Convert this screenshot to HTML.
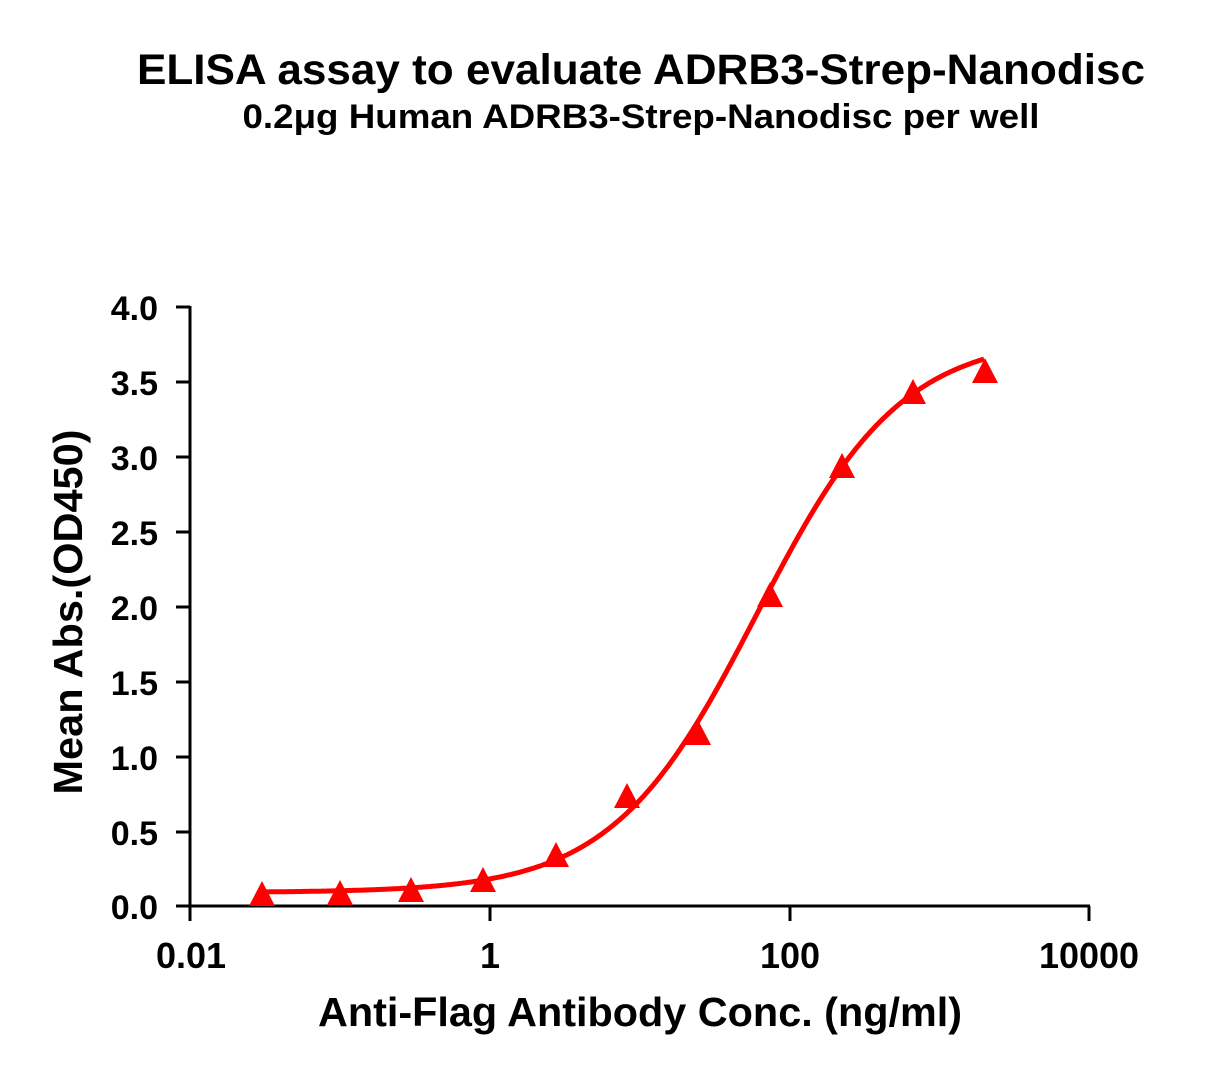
<!DOCTYPE html>
<html><head><meta charset="utf-8"><style>
html,body{margin:0;padding:0;background:#fff;}
svg text{font-family:"Liberation Sans",Arial,sans-serif;font-weight:bold;fill:#000;}
</style></head><body>
<svg width="1217" height="1075" xmlns="http://www.w3.org/2000/svg">
<text x="641" y="84" font-size="43" text-anchor="middle" textLength="1008" lengthAdjust="spacingAndGlyphs">ELISA assay to evaluate ADRB3-Strep-Nanodisc</text>
<text x="641" y="128" font-size="34" text-anchor="middle" textLength="797" lengthAdjust="spacingAndGlyphs">0.2μg Human ADRB3-Strep-Nanodisc per well</text>
<g stroke="#000" stroke-width="3" fill="none">
<line x1="190" y1="306" x2="190" y2="908"/>
<line x1="188" y1="906" x2="1090" y2="906"/>
<line x1="176" y1="307" x2="190" y2="307"/>
<line x1="176" y1="382" x2="190" y2="382"/>
<line x1="176" y1="457" x2="190" y2="457"/>
<line x1="176" y1="532" x2="190" y2="532"/>
<line x1="176" y1="607" x2="190" y2="607"/>
<line x1="176" y1="682" x2="190" y2="682"/>
<line x1="176" y1="757" x2="190" y2="757"/>
<line x1="176" y1="832" x2="190" y2="832"/>
<line x1="176" y1="906" x2="190" y2="906"/>
<line x1="190" y1="906" x2="190" y2="921"/>
<line x1="490" y1="906" x2="490" y2="921"/>
<line x1="790" y1="906" x2="790" y2="921"/>
<line x1="1089" y1="906" x2="1089" y2="921"/>
</g>
<g font-size="34" text-anchor="end">
<text x="158" y="320">4.0</text><text x="158" y="395">3.5</text><text x="158" y="470">3.0</text>
<text x="158" y="545">2.5</text><text x="158" y="620">2.0</text><text x="158" y="695">1.5</text>
<text x="158" y="770">1.0</text><text x="158" y="845">0.5</text><text x="158" y="919">0.0</text>
</g>
<g font-size="36" text-anchor="middle">
<text x="191" y="968">0.01</text><text x="490" y="968">1</text><text x="790" y="968">100</text><text x="1089" y="968">10000</text>
</g>
<text x="640" y="1026" font-size="41" text-anchor="middle" textLength="644" lengthAdjust="spacingAndGlyphs">Anti-Flag Antibody Conc. (ng/ml)</text>
<text transform="translate(82,612) rotate(-90)" font-size="41" text-anchor="middle" textLength="365" lengthAdjust="spacingAndGlyphs">Mean Abs.(OD450)</text>
<path id="curve" fill="none" stroke="#ff0000" stroke-width="5" d=""/>
<g fill="#ff0000" id="pts"></g>
</svg>
<script>
var d='';
for(var px=262;px<=985;px+=2){var x=Math.pow(10,(px-190)/150-2);var y=3.8+(0.09-3.8)/(1+Math.pow(x/60,0.9));var py=906-y*150;d+=(d?'L':'M')+px+','+py.toFixed(1);}
document.getElementById('curve').setAttribute('d',d);
var P=[[262,895],[340,894],[411,891],[483,881],[556,856],[627,797],[698,734],[770,596],[842,467],[913,393],[985,372]];
var g=document.getElementById('pts'),s='';
P.forEach(function(p){var x=p[0],y=p[1];s+='<polygon points="'+(x-13)+','+(y+11)+' '+(x+13)+','+(y+11)+' '+x+','+(y-14)+'"/>';});
g.innerHTML=s;
</script>
</body></html>
